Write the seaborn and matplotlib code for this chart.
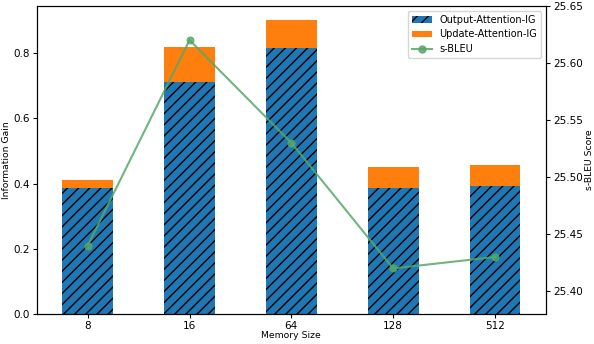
import matplotlib
matplotlib.use("Agg")
import matplotlib.pyplot as plt
import seaborn as sns
import pandas as pd
from matplotlib.patches import Patch
from matplotlib.lines import Line2D

memory_sizes = ["8", "16", "64", "128", "512"]
output_ig = [0.385, 0.710, 0.815, 0.386, 0.394]
update_ig = [0.027, 0.110, 0.086, 0.064, 0.062]
s_bleu = [25.44, 25.62, 25.53, 25.42, 25.43]

plt.rcParams["font.family"] = ["DejaVu Sans"]
plt.rcParams["font.size"] = 7.5
plt.rcParams["hatch.linewidth"] = 1.0

total_ig = [o + u for o, u in zip(output_ig, update_ig)]
df = pd.DataFrame({"Memory Size": memory_sizes, "output": output_ig,
                   "total": total_ig, "bleu": s_bleu})

GREEN = "#55a868"

fig = plt.figure(figsize=(5.94, 3.44), dpi=100)
ax = fig.add_axes([0.062, 0.087, 0.857, 0.896])

sns.barplot(data=df, x="Memory Size", y="total", color="#ff7f0e", saturation=1,
            width=0.5, ax=ax, order=memory_sizes, linewidth=0)
n_tot = len(ax.patches)
sns.barplot(data=df, x="Memory Size", y="output", color="#1f77b4", saturation=1,
            width=0.5, ax=ax, order=memory_sizes, linewidth=0)
for p in ax.patches[n_tot:]:
    p.set_hatch("///")
    p.set_edgecolor("black")
    p.set_linewidth(0)

ax.tick_params(labelsize=7.5, length=2.8, pad=2.2)
ax.set_ylabel("Information Gain", fontsize=6.7)
ax.set_xlabel("Memory Size", fontsize=6.7)
ax.yaxis.set_label_coords(-0.051, 0.5)
ax.xaxis.set_label_coords(0.5, -0.054)
ax.set_xlim(-0.5, 4.5)
ax.set_ylim(0, 0.945)
ax.set_yticks([0.0, 0.2, 0.4, 0.6, 0.8])

ax2 = ax.twinx()
sns.lineplot(data=df, x="Memory Size", y="bleu", sort=False, marker="o",
             color=GREEN, alpha=0.85, markersize=5, linewidth=1.5,
             markerfacecolor=GREEN, markeredgecolor=GREEN, ax=ax2)
ax2.set_ylim(25.38, 25.65)
ax2.set_yticks([25.40, 25.45, 25.50, 25.55, 25.60, 25.65])
ax2.tick_params(labelsize=7.5, length=2.8, pad=2.2)
ax2.set_ylabel("s-BLEU Score", fontsize=6.7)
ax2.yaxis.set_label_coords(1.076, 0.5)
ax2.set_xlim(-0.5, 4.5)

handles = [
    Patch(facecolor="#1f77b4", edgecolor="black", hatch="///", linewidth=0, label="Output-Attention-IG"),
    Patch(facecolor="#ff7f0e", linewidth=0, label="Update-Attention-IG"),
    Line2D([0], [0], color=GREEN, alpha=0.85, marker="o", markersize=5,
           markerfacecolor=GREEN, markeredgecolor=GREEN, linewidth=1.5, label="s-BLEU"),
]
ax2.legend(handles=handles, loc="upper right", fontsize=7)

fig.savefig("out.png", dpi=100)
